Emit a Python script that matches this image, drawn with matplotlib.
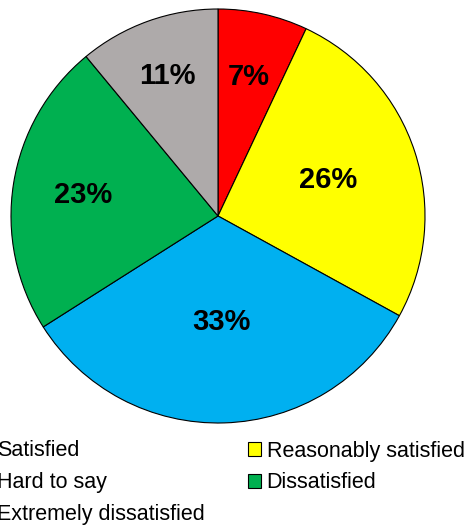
import matplotlib.pyplot as plt
import numpy as np

plt.rcParams['font.family'] = ['Liberation Sans', 'DejaVu Sans']

# survey answers, in pie order (clockwise from 12 o'clock)
labels = ['Satisfied', 'Reasonably satisfied', 'Hard to say',
          'Dissatisfied', 'Extremely dissatisfied']
shares = [7, 26, 33, 23, 11]
colors = ['#FF0000', '#FFFF00', '#00B0F0', '#00B050', '#AEAAAA']

# how far out each percentage label sits (fraction of radius)
label_r = [0.69, 0.56, 0.51, 0.66, 0.72]

fig = plt.figure(figsize=(4.7, 5.25), dpi=100)
ax = fig.add_axes([11 / 470, 102 / 525, 414 / 470, 414 / 525])

wedges, _ = ax.pie(shares, colors=colors, startangle=90, counterclock=False,
                   radius=1.0, wedgeprops=dict(edgecolor='black', linewidth=0.8))
ax.set_xlim(-1, 1)
ax.set_ylim(-1, 1)
ax.set_aspect('equal')
ax.axis('off')

# percentage labels at the middle angle of each wedge
for w, s, r in zip(wedges, shares, label_r):
    ang = np.deg2rad((w.theta1 + w.theta2) / 2)
    ax.text(r * np.cos(ang), r * np.sin(ang), '%d%%' % s,
            ha='center', va='center', fontsize=21, fontweight='bold')

# legend reads row by row, matplotlib fills columns first -> reorder
order = [0, 2, 4, 1, 3]
fig.legend([wedges[i] for i in order], [labels[i] for i in order],
           ncol=2, loc='upper left', bbox_to_anchor=(-22 / 470, 84.5 / 525),
           frameon=False, fontsize=15.5, borderpad=0, borderaxespad=0,
           handlelength=0.6, handleheight=0.6, handletextpad=0.28,
           columnspacing=2.0, labelspacing=0.5)

fig.savefig('out.png', dpi=100)
